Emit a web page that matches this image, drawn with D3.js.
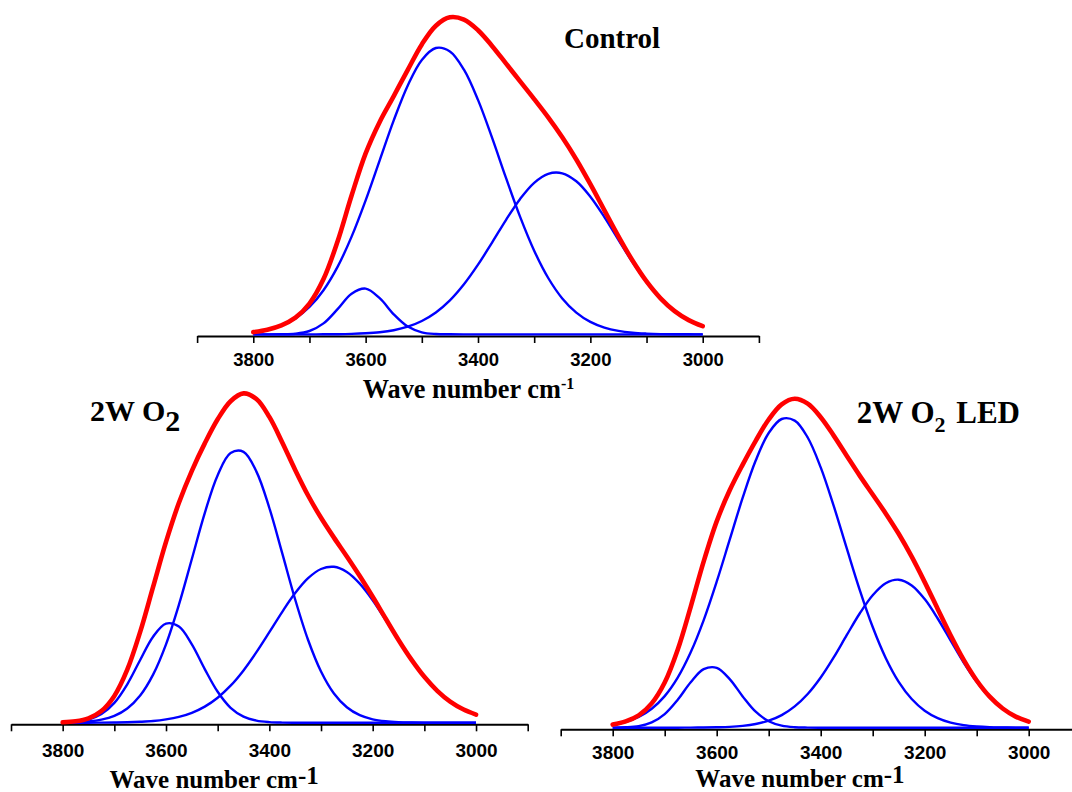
<!DOCTYPE html>
<html>
<head>
<meta charset="utf-8">
<script src="https://cdn.jsdelivr.net/npm/d3@7"></script>
<style>
  html, body { margin: 0; padding: 0; background: #fff; }
  svg { display: block; }
</style>
</head>
<body>
<svg id="chart" width="1072" height="792"></svg>
<script>
// Wave numbers (cm-1) at which the curves were read
const waveNumbers = [3800, 3775, 3750, 3725, 3700, 3675, 3650, 3625, 3600, 3575, 3550, 3525, 3500,
  3475, 3450, 3425, 3400, 3375, 3350, 3325, 3300, 3275, 3250, 3225, 3200, 3175, 3150, 3125, 3100,
  3075, 3050, 3025, 3000];

// Axis ticks
const tickValuesAll = [3900, 3800, 3700, 3600, 3500, 3400, 3300, 3200, 3100, 3000, 2900];
const tickLabels = [3800, 3600, 3400, 3200, 3000];

// Panel titles
const panelTitles = ["Control", "2W O2", "2W O2 LED"];

// Control (intensity, a.u.)
const controlBig = [2.3, 4.7, 8.9, 16.0, 27.4, 44.2, 67.5, 97.8, 134.1, 174.1, 214.0, 249.0, 274.5,
  286.4, 283.0, 264.7, 234.5, 196.7, 156.2, 117.5, 83.7, 56.4, 36.0, 21.8, 12.5, 6.8, 3.5, 1.7, 0.8,
  0.3, 0.1, 0.1, 0.0];
const controlRight = [0, 0, 0, 0, 0.0, 0.1, 0.2, 0.5, 1.1, 2.2, 4.2, 7.7, 13.4, 21.9, 34.0, 50.1,
  69.7, 91.8, 114.6, 135.5, 151.6, 160.6, 161.1, 153.1, 137.7, 117.3, 94.6, 72.2, 52.2, 35.8, 23.2,
  14.2, 8.3];
const controlSmall = [0.0, 0.0, 0.1, 0.7, 3.4, 11.0, 25.2, 40.6, 45.8, 36.2, 20.1, 7.8, 2.1, 0.4, 0.1,
  0, 0, 0, 0, 0, 0, 0, 0, 0, 0, 0, 0, 0, 0, 0, 0, 0, 0];
const controlFit = [2.3, 4.7, 9.0, 16.7, 30.8, 55.3, 92.9, 138.9, 181.0, 212.5, 238.3, 264.6, 290.0,
  308.7, 317.1, 314.8, 304.2, 288.5, 270.8, 253.0, 235.3, 217.0, 197.1, 174.9, 150.2, 124.1, 98.1,
  73.9, 53.0, 36.1, 23.3, 14.3, 8.3];

// 2W O2
const o2Big = [0.2, 0.5, 1.2, 3.0, 6.8, 14.2, 27.2, 48.1, 78.4, 118.0, 163.7, 209.6, 247.5, 269.6,
  270.9, 251.1, 214.7, 169.3, 123.2, 82.7, 51.2, 29.2, 15.4, 7.5, 3.4, 1.4, 0.5, 0.2, 0.1, 0.0, 0.0,
  0.0, 0.0];
const o2Right = [0.0, 0.0, 0.0, 0.1, 0.2, 0.4, 0.9, 1.7, 3.3, 5.8, 9.9, 16.1, 25.0, 37.0, 52.3, 70.5,
  90.5, 110.9, 129.6, 144.5, 153.7, 155.9, 150.8, 139.1, 122.5, 102.8, 82.3, 62.9, 45.8, 31.9, 21.1,
  13.4, 8.1];
const o2Small = [0.3, 1.0, 3.1, 8.6, 19.8, 38.4, 62.7, 86.0, 99.1, 96.1, 78.3, 53.6, 30.9, 14.9, 6.1,
  2.1, 0.6, 0.1, 0, 0, 0, 0, 0, 0, 0, 0, 0, 0, 0, 0, 0, 0, 0];
const o2Fit = [0.4, 1.4, 4.4, 11.7, 26.8, 53.0, 90.8, 135.8, 180.8, 219.9, 251.9, 279.3, 303.4,
  321.5, 329.3, 323.7, 305.8, 280.3, 252.8, 227.2, 204.9, 185.1, 166.2, 146.6, 125.9, 104.2, 82.8,
  63.1, 45.9, 31.9, 21.1, 13.4, 8.1];

// 2W O2 LED
const ledBig = [3.0, 5.9, 10.8, 19.0, 31.6, 50.1, 75.4, 107.6, 146.0, 188.0, 230.0, 267.2, 294.7,
  308.7, 307.1, 290.2, 260.3, 221.8, 179.5, 137.9, 100.7, 69.8, 45.9, 28.7, 17.0, 9.6, 5.1, 2.6, 1.3,
  0.6, 0.3, 0.1, 0.0];
const ledRight = [0, 0, 0, 0, 0.0, 0.0, 0.1, 0.2, 0.4, 0.8, 1.8, 3.7, 7.0, 12.6, 21.3, 33.7, 50.2,
  70.3, 92.5, 114.2, 132.5, 144.5, 148.0, 142.3, 128.6, 109.2, 87.1, 65.2, 45.9, 30.4, 18.9, 11.0,
  6.0];
const ledSmall = [0.1, 0.4, 1.6, 5.3, 13.6, 27.9, 45.4, 58.5, 59.9, 48.6, 31.3, 16.0, 6.5, 2.1, 0.5,
  0.1, 0.0, 0, 0, 0, 0, 0, 0, 0, 0, 0, 0, 0, 0, 0, 0, 0, 0];
const ledFit = [3.1, 6.3, 12.4, 24.3, 45.2, 78.0, 120.9, 166.3, 206.3, 237.4, 263.1, 286.9, 308.2,
  323.4, 328.9, 324.0, 310.5, 292.1, 272.0, 252.1, 233.2, 214.3, 193.9, 171.0, 145.6, 118.8, 92.2,
  67.8, 47.2, 31.0, 19.2, 11.1, 6.1];

const svg = d3.select("#chart");
const BLUE = "#0000ff", RED = "#ff0000";
const serif = "'Liberation Serif', 'Times New Roman', serif";
const sans = "'Liberation Sans', Arial, sans-serif";

const panels = [
  { comps: [controlBig, controlRight, controlSmall], fit: controlFit,
    x0: 197.1, x1: 758.9, zero: 334.4, axisY: 336, labY: 30, labSize: 18.5,
    xt: 362.7, yt: 398.3, tSize: 26.3, supSize: 16, supDy: -9 },
  { comps: [o2Big, o2Right, o2Small], fit: o2Fit,
    x0: 11.0, x1: 527.7, zero: 722.7, axisY: 724.3, labY: 33, labSize: 19,
    xt: 109.5, yt: 788, tSize: 25, supSize: 25, supDy: -4 },
  { comps: [ledBig, ledRight, ledSmall], fit: ledFit,
    x0: 560.7, x1: 1080.7, zero: 727.7, axisY: 729.3, labY: 29.5, labSize: 19,
    xt: 695.3, yt: 787, tSize: 25, supSize: 25, supDy: -4 }
];

panels.forEach((p) => {
  const x = d3.scaleLinear().domain([3900, 2900]).range([p.x0, p.x1]);
  const y = d3.scaleLinear().domain([0, 330]).range([p.zero, p.zero - 330]);
  const g = svg.append("g");

  const axis = d3.axisBottom(x)
    .tickValues(tickValuesAll)
    .tickSize(7)
    .tickSizeOuter(0)
    .tickFormat(d => tickLabels.includes(d) ? d3.format("d")(d) : "");
  const ag = g.append("g").attr("transform", `translate(0,${p.axisY})`).call(axis);
  ag.select(".domain").attr("stroke", "#000").attr("stroke-width", 2);
  ag.selectAll(".tick line").attr("stroke", "#000").attr("stroke-width", 1.6);
  ag.selectAll(".tick text")
    .attr("y", p.labY).attr("dy", 0)
    .attr("fill", "#000")
    .style("font-family", sans).style("font-weight", "bold").style("font-size", p.labSize + "px");

  const line = d3.line()
    .x((d, i) => x(waveNumbers[i]))
    .y(d => y(d))
    .curve(d3.curveCatmullRom.alpha(0.5));

  p.comps.forEach(c => {
    g.append("path").datum(c).attr("d", line)
      .attr("fill", "none").attr("stroke", BLUE).attr("stroke-width", 2.4)
      .attr("stroke-linejoin", "round");
  });
  g.append("path").datum(p.fit).attr("d", line)
    .attr("fill", "none").attr("stroke", RED).attr("stroke-width", 4.6)
    .attr("stroke-linecap", "round").attr("stroke-linejoin", "round");

  const t = g.append("text").attr("x", p.xt).attr("y", p.yt)
    .style("font-family", serif).style("font-weight", "bold").style("font-size", p.tSize + "px")
    .attr("fill", "#000");
  t.append("tspan").text("Wave number cm");
  t.append("tspan").attr("dy", p.supDy).style("font-size", p.supSize + "px").text("-1");
});

// Panel titles
const titleStyle = sel => sel.style("font-family", serif).style("font-weight", "bold").attr("fill", "#000");

svg.append("text").attr("x", 564).attr("y", 48.3).style("font-size", "29px")
  .call(titleStyle).text(panelTitles[0]);

const t2 = svg.append("text").attr("x", 90).attr("y", 420.7).style("font-size", "30px").call(titleStyle);
t2.append("tspan").text("2W O");
t2.append("tspan").attr("dy", 10).text("2");

const t3 = svg.append("text").attr("x", 856.7).attr("y", 423.3).style("font-size", "31px").call(titleStyle);
t3.append("tspan").text("2W O");
t3.append("tspan").attr("dy", 8.4).style("font-size", "22px").text("2");
t3.append("tspan").attr("dy", -8.4).attr("dx", 3).text(" LED");
</script>
</body>
</html>
